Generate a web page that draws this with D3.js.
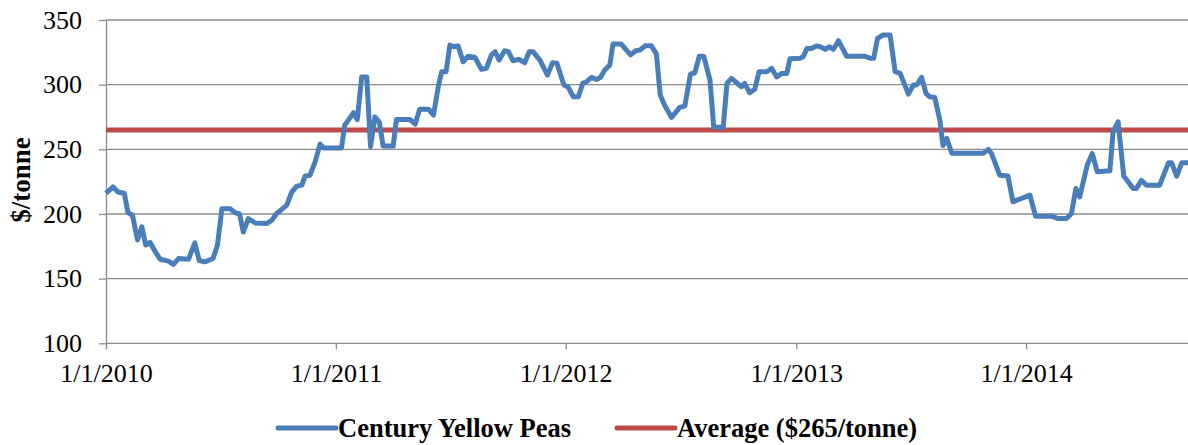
<html lang="en">
<head>
    <meta charset="utf-8">
    <style type="text/css">
        body { margin: 0; background: #fff; }
        text { font-family: "Liberation Serif", "Times New Roman", serif; fill: #000; }
        .grid line { stroke: #8c8c8c; stroke-width: 1.3px; }
        .axis path, .axis line { stroke: #8c8c8c; stroke-width: 1.3px; }
    </style>
</head>

<body>
<svg width="1188" height="445"></svg>

<script src="https://cdn.jsdelivr.net/npm/d3@7"></script>

<script type="text/javascript">
    // weekly price points
    var dates = [
        "2010-01-01","2010-01-12","2010-01-20","2010-01-30","2010-02-05","2010-02-12","2010-02-20","2010-02-27",
        "2010-03-05","2010-03-12","2010-03-20","2010-03-28","2010-04-10","2010-04-18","2010-04-26","2010-05-12",
        "2010-05-22","2010-05-29","2010-06-07","2010-06-20","2010-06-27","2010-07-04","2010-07-17","2010-07-25",
        "2010-08-01","2010-08-07","2010-08-15","2010-08-26","2010-09-13","2010-09-21","2010-09-29","2010-10-07",
        "2010-10-15","2010-10-23","2010-10-31","2010-11-08","2010-11-13","2010-11-21","2010-11-29","2010-12-07",
        "2010-12-13","2011-01-10","2011-01-15","2011-01-21","2011-01-29","2011-02-04","2011-02-11","2011-02-19",
        "2011-02-25","2011-03-04","2011-03-11","2011-03-17","2011-04-02","2011-04-07","2011-04-29","2011-05-07",
        "2011-05-14","2011-05-28","2011-06-05","2011-06-13","2011-06-18","2011-06-25","2011-07-01","2011-07-07",
        "2011-07-14","2011-07-22","2011-07-30","2011-08-10","2011-08-20","2011-08-28","2011-09-05","2011-09-11",
        "2011-09-17","2011-09-26","2011-10-02","2011-10-09","2011-10-18","2011-10-28","2011-11-04","2011-11-10",
        "2011-11-21","2011-12-03","2011-12-11","2011-12-18","2011-12-29","2012-01-05","2012-01-13","2012-01-21",
        "2012-01-28","2012-02-03","2012-02-11","2012-02-19","2012-02-25","2012-03-03","2012-03-11","2012-03-16",
        "2012-03-29","2012-04-13","2012-04-21","2012-04-28","2012-05-06","2012-05-16","2012-05-24","2012-05-30",
        "2012-06-06","2012-06-17","2012-06-30","2012-07-08","2012-07-17","2012-07-24","2012-07-31","2012-08-07",
        "2012-08-17","2012-08-23","2012-09-07","2012-09-13","2012-09-20","2012-10-06","2012-10-11","2012-10-19",
        "2012-10-27","2012-11-03","2012-11-15","2012-11-23","2012-12-01","2012-12-09","2012-12-17","2012-12-22",
        "2013-01-07","2013-01-12","2013-01-18","2013-01-25","2013-02-02","2013-02-08","2013-02-16","2013-02-22",
        "2013-03-01","2013-03-09","2013-03-22","2013-04-20","2013-04-28","2013-05-04","2013-05-10","2013-05-19",
        "2013-05-30","2013-06-07","2013-06-15","2013-06-28","2013-07-06","2013-07-11","2013-07-19","2013-07-26",
        "2013-08-01","2013-08-09","2013-08-17","2013-08-22","2013-08-28","2013-09-05","2013-10-25","2013-11-02",
        "2013-11-07","2013-11-20","2013-12-03","2013-12-11","2014-01-07","2014-01-16","2014-02-10","2014-02-21",
        "2014-03-06","2014-03-14","2014-03-21","2014-03-27","2014-04-08","2014-04-16","2014-04-24","2014-05-14",
        "2014-05-19","2014-05-27","2014-06-05","2014-06-20","2014-06-25","2014-07-03","2014-07-11","2014-08-01",
        "2014-08-15","2014-08-20","2014-08-28","2014-09-05","2014-09-15"
    ];
    var prices = [
        216,221,217,216,201,199,180,190,
        176,178,171,165,163.5,161,165.5,165,
        177.6,164,163,165.6,176,204,204,201,
        200,186,196.5,193,192.6,195,200.4,203.5,
        206.8,217,221.5,222.3,229.3,230,240.3,254,
        251,251,268.7,272.6,278.3,273,306,306,
        252,275,271,252.5,252.5,273,273,269.5,
        281,281,276.5,299.7,310,310,330.6,329.3,
        330,317.7,322,321,311.8,312.6,323,325.5,
        319,326.2,325.5,318.5,319.6,317,325.5,325.5,
        319,307.4,317,316.5,299.7,298,290.6,290.6,
        301,302.3,305.6,304,305.6,311.3,315.2,331.4,
        331.4,323,326.2,326.8,330,330,323.7,292,
        284,274.7,282.4,283.4,308.2,309.2,322,322,
        303.6,267,267,301,304.9,298.4,301,293.7,
        296.4,310,310,312.6,306,308.7,308.7,320,
        320.4,321.6,328,328,329.9,329.3,327.3,329.3,
        327.3,334,322,322,320.4,320.4,335.8,338.4,
        338.4,310,308.7,292.7,299.7,299.7,305.6,293.3,
        290.6,290,272.6,253,258.4,247,247,249.9,
        246.8,230,229.3,209.4,214.6,198.3,198.3,196.5,
        196.5,200.4,219.7,213.2,237.8,246.8,232.6,233.4,
        263.6,271.3,229.3,219.7,219.7,226,222.3,222.3,
        239.6,239.6,229.3,239.6,239.6
    ];
    var average = 265;
    var yTicks = [100, 150, 200, 250, 300, 350];
    var xTicks = ["2010-01-01", "2011-01-01", "2012-01-01", "2013-01-01", "2014-01-01"];
    var seriesNames = ["Century Yellow Peas", "Average ($265/tonne)"];
    var seriesColors = ["#4a7ebb", "#be4b48"];

    var parse = d3.timeParse("%Y-%m-%d");
    var data = dates.map(function (d, i) { return {date: parse(d), value: prices[i]}; });

    var svg = d3.select("svg"),
        plotLeft = 106, plotRight = 1188, plotTop = 20, plotBottom = 343.3;

    var x = d3.scaleTime()
        .domain([parse("2010-01-01"), parse("2014-09-15")])
        .range([plotLeft, plotRight]);
    var y = d3.scaleLinear()
        .domain([100, 350])
        .range([plotBottom, plotTop]);

    // horizontal gridlines
    svg.append("g")
        .attr("class", "grid")
        .selectAll("line")
        .data(yTicks.slice(1))
        .enter()
        .append("line")
        .attr("x1", plotLeft)
        .attr("x2", plotRight)
        .attr("y1", function (d) { return y(d); })
        .attr("y2", function (d) { return y(d); });

    var yAxis = svg.append("g")
        .attr("class", "axis")
        .attr("transform", "translate(" + plotLeft + ",0)")
        .call(d3.axisLeft(y).tickValues(yTicks).tickSize(7).tickSizeOuter(0).tickPadding(17));
    yAxis.selectAll("text").style("font-size", "26px");

    var xAxis = svg.append("g")
        .attr("class", "axis")
        .attr("transform", "translate(0," + plotBottom + ")")
        .call(d3.axisBottom(x)
            .tickValues(xTicks.map(parse))
            .tickFormat(d3.timeFormat("%-m/%-d/%Y"))
            .tickSize(6).tickSizeOuter(0).tickPadding(14));
    xAxis.selectAll("text").style("font-size", "26px");
    xAxis.select(".domain").attr("d", "M" + plotLeft + ",0H" + plotRight);

    svg.append("text")
        .attr("transform", "translate(30,180) rotate(-90)")
        .attr("text-anchor", "middle")
        .style("font-size", "27px")
        .style("font-weight", "bold")
        .text("$/tonne");

    svg.append("line")
        .attr("x1", plotLeft)
        .attr("x2", plotRight)
        .attr("y1", y(average))
        .attr("y2", y(average))
        .style("stroke", seriesColors[1])
        .style("stroke-width", 5);

    var line = d3.line()
        .x(function (d) { return x(d.date); })
        .y(function (d) { return y(d.value); });

    svg.append("path")
        .datum(data)
        .attr("d", line)
        .style("fill", "none")
        .style("stroke", seriesColors[0])
        .style("stroke-width", 5)
        .style("stroke-linejoin", "round");

    // legend
    var legendX = [278, 617];
    var legend = svg.selectAll(".legend")
        .data(seriesNames)
        .enter()
        .append("g")
        .attr("class", "legend")
        .attr("transform", function (d, i) { return "translate(" + legendX[i] + ",428)"; });
    legend.append("line")
        .attr("x1", 0)
        .attr("x2", 58)
        .style("stroke", function (d, i) { return seriesColors[i]; })
        .style("stroke-width", 5)
        .style("stroke-linecap", "round");
    legend.append("text")
        .attr("x", 60)
        .attr("dy", "0.35em")
        .style("font-size", "26.5px")
        .style("font-weight", "bold")
        .text(function (d) { return d; });
</script>

</body>
</html>
